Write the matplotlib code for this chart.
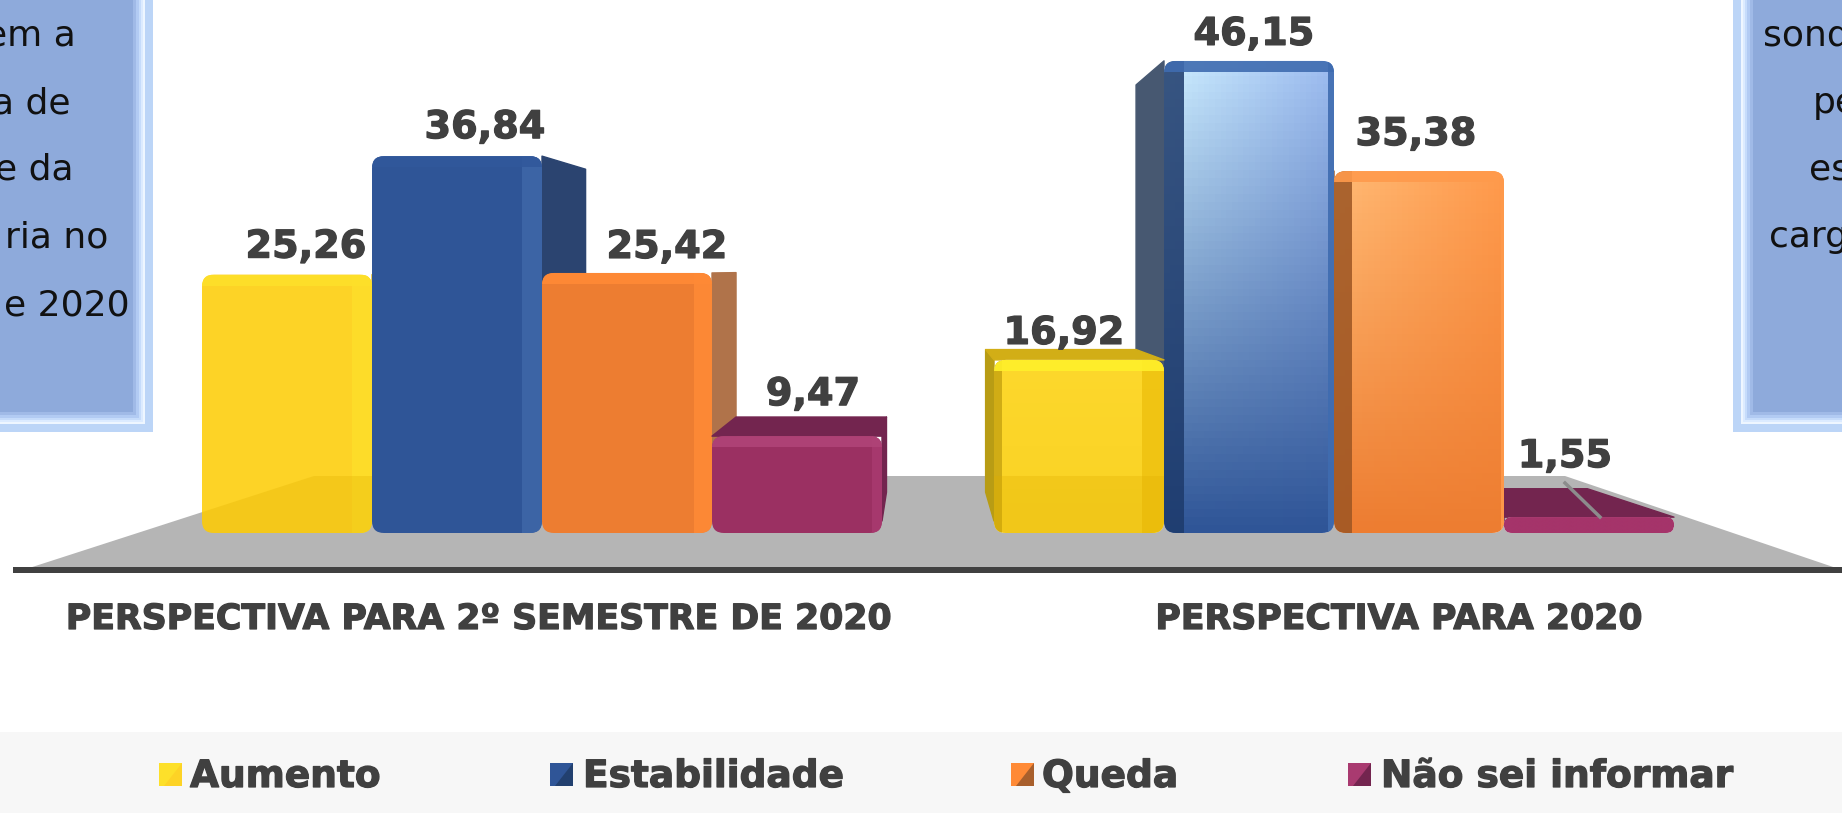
import numpy as np
import matplotlib
matplotlib.use("Agg")
import matplotlib.pyplot as plt
import matplotlib.patheffects as pe
from matplotlib.patches import FancyBboxPatch, Polygon, Rectangle
from matplotlib.colors import to_rgb

# Chart data
groups = ["PERSPECTIVA PARA 2º SEMESTRE DE 2020", "PERSPECTIVA PARA 2020"]
series = ["Aumento", "Estabilidade", "Queda", "Não sei informar"]
semester_values = [25.26, 36.84, 25.42, 9.47]
year_values = [16.92, 46.15, 35.38, 1.55]
semester_labels = ["25,26", "36,84", "25,42", "9,47"]
year_labels = ["16,92", "46,15", "35,38", "1,55"]
left_box_lines = ["em a", "a de", "e da", "ria no", "e 2020"]
right_box_lines = ["sond", "pe", "es", "carg"]

# Bar styles: front, side, top, cap, edge strip (colour, width in px), thin strip on the other edge
semester_styles = [
    dict(front="#fdd326", side="#e8bd10", top="#fde02a", cap="#fde02a", strip=("#fede2a", 20)),
    dict(front="#2f5597", side="#2b4470", top="#2f5597", cap="#31589b", strip=("#3f67a8", 20)),
    dict(front="#ed7d31", side="#b0734a", top="#ff8a36", cap="#ff8a36", strip=("#ff8a36", 18)),
    dict(front="#9b3062", side="#73254f", top="#73254f", cap="#b04478", strip=("#a93a70", 10)),
]
year_styles = [
    dict(side="#b89c14", top="#d2ae16", cap="#fff02a", strip=("#c9a512", 8), other=("#efc311", 22),
         grad=("#fdd82c", "#fdd82c", "#f9d224")),
    dict(side="#475871", top="#3f6cb0", cap="#3f6cb0", strip=("#1d3a6b", 20), other=("#3f6cb0", 6),
         grad=("#cdeeff", "#9dbcf0", "#2f5597")),
    dict(side="#9c5523", top="#ff9a4c", cap="#ff9a4c", strip=("#9c5523", 18), other=("#ff9a4c", 3),
         grad=("#ffba75", "#ff9a4c", "#ed7d31")),
    dict(side="#73254f", top="#73254f", cap="#a5346a", strip=None, other=None,
         grad=("#a5346a", "#a5346a", "#a5346a")),
]
swatch_colors = [("#fde02a", "#fdd326"), ("#2f5597", "#22406f"), ("#ff8a36", "#a85f2c"), ("#a93a70", "#73254f")]
text_color = "#404040"

W, H = 1842, 813
PX_X = 790.0    # pixels per group
PX_Y = 10.23    # pixels per percent
CENTER_X = 542
BASE_Y = 533
BAR_W = 170 / PX_X
DEPTH = 0.115
VP = ((921 - CENTER_X) / PX_X, (BASE_Y - 270) / PX_Y)

fig = plt.figure(figsize=(W / 100, H / 100), dpi=100, facecolor="white")

# Axes in pixels for the floor, text boxes and legend
bg = fig.add_axes([0, 0, 1, 1], zorder=1)
bg.set_xlim(0, W)
bg.set_ylim(H, 0)
bg.axis("off")

# Axes for the bars
ax = fig.add_axes([0, 0, 1, 1], zorder=2)
ax.patch.set_alpha(0)
ax.axis("off")


def side_box(inner_x, outer_x, bottom):
    # bevelled frame, outside in
    sign = 1 if outer_x > inner_x else -1
    far = -10 if sign > 0 else W + 10
    shades = ["#bcd5f7", "#eef6ff", "#dcebff", "#c6dcfb", "#b2cbf3", "#a0bae7", "#8eaadb"]
    insets = [0, 8, 10, 12, 14, 17, 20]
    for shade, inset in zip(shades, insets):
        edge = outer_x - sign * inset
        bg.add_patch(Rectangle((min(far, edge), -5), abs(edge - far), bottom - inset + 5, fc=shade, ec="none"))


side_box(134, 153, 432)
side_box(1753, 1733, 432)

left_ends = [76, 70, 73, 108, 130]
for line, x, y in zip(left_box_lines, left_ends, [46, 113, 180, 247, 315]):
    bg.text(x, y, line, fontsize=26, family="DejaVu Sans", ha="right", va="baseline", color="#111111")
for line, x, y in zip(right_box_lines, [1763, 1813, 1809, 1769], [46, 113, 180, 247]):
    bg.text(x, y, line, fontsize=26, family="DejaVu Sans", ha="left", va="baseline", color="#111111")

# Floor and axis line
floor_pts = [(23, 570), (314, 476), (1565, 476), (1842, 570)]
bg.add_patch(Polygon(floor_pts, fc="#b5b5b5", ec="none"))
bg.add_patch(Rectangle((13, 567), W, 6, fc=text_color, ec="none"))


def back(x, y):
    return x + DEPTH * (VP[0] - x), y + DEPTH * (VP[1] - y)


def clipped_rect(x, y, w, h, color, alpha, clip):
    r = Rectangle((x, y), w, h, fc=color, alpha=alpha, ec="none", zorder=3)
    ax.add_patch(r)
    r.set_clip_path(clip)


def draw_bar(x0, value, style, left_side):
    x1 = x0 + BAR_W
    radius = min(12, value * PX_Y * 0.5)
    # side face
    sx = x0 if left_side else x1
    bx, by = back(sx, value)
    low = min(radius / PX_Y, value)
    bx0, by0 = back(sx, low)
    ax.add_patch(Polygon([(sx, low), (sx, value), (bx, by), (bx0, by0)], fc=style["side"], ec=style["side"],
                         lw=1, joinstyle="round", zorder=3))
    # top face
    if value < VP[1] - 1:
        lx, ly = back(x0, value)
        rx, ry = back(x1, value)
        ax.add_patch(Polygon([(x0, value), (x1, value), (rx, ry), (lx, ly)], fc=style["top"], ec=style["top"],
                             lw=1, joinstyle="round", zorder=3))
    # front face, rounded
    front = FancyBboxPatch((x0, 0), BAR_W, value,
                           boxstyle="round,pad=0,rounding_size=%f" % (radius / PX_X),
                           mutation_aspect=PX_X / PX_Y, fc=style.get("front", "#ffffff"), ec="none", zorder=3)
    ax.add_patch(front)
    if "grad" in style:
        tl, tr, bt = [np.array(to_rgb(c)) for c in style["grad"]]
        u = np.linspace(0, 1, 30)[None, :, None]
        v = np.linspace(0, 1, 60)[:, None, None]
        img = (tl * (1 - u) + tr * u) * (1 - v) + bt * v
        im = ax.imshow(img, extent=(x0, x1, 0, value), origin="upper", aspect="auto", zorder=3)
        im.set_clip_path(front)
    # bevels
    if style["strip"] is not None:
        c, w = style["strip"]
        xs = x0 if left_side else x1 - w / PX_X
        clipped_rect(xs, 0, w / PX_X, value, c, 0.85, front)
    if style.get("other") is not None:
        c, w = style["other"]
        xs = x1 - w / PX_X if left_side else x0
        clipped_rect(xs, 0, w / PX_X, value, c, 0.9, front)
    bh = min(11, value * PX_Y * 0.6) / PX_Y
    clipped_rect(x0, value - bh, BAR_W, bh, style["cap"], 0.9, front)
    return front


starts = [-2 * BAR_W, 1 - 2 * BAR_W + 2 / PX_X]

# first group is drawn left to right, the second right to left so the sides overlap like the original
yellow_fronts = []
for i in range(4):
    f = draw_bar(starts[0] + i * BAR_W, semester_values[i], semester_styles[i], False)
    if i == 0:
        yellow_fronts.append(f)
for i in [3, 2, 1, 0]:
    f = draw_bar(starts[1] + i * BAR_W, year_values[i], year_styles[i], True)
    if i == 0:
        yellow_fronts.append(f)

# the floor shows faintly through the yellow bars
for f in yellow_fronts:
    shade = Polygon(floor_pts, transform=bg.transData, fc="#e0b000", alpha=0.3, ec="none", zorder=4)
    ax.add_patch(shade)
    shade.set_clip_path(f)

ax.set_xlim(-CENTER_X / PX_X, (W - CENTER_X) / PX_X)
ax.set_ylim((BASE_Y - H) / PX_Y, BASE_Y / PX_Y)

heavy = [pe.withStroke(linewidth=0.9, foreground=text_color)]

# Value labels, offsets in pixels from the bar front top centre
semester_offsets = [(19, 17), (28, 18), (40, 15), (16, 31)]
year_offsets = [(-15, 16), (5, 16), (-3, 26), (-24, 50)]
for g, values, labels, offsets in [(0, semester_values, semester_labels, semester_offsets),
                                   (1, year_values, year_labels, year_offsets)]:
    for i in range(4):
        xc = starts[g] + (i + 0.5) * BAR_W
        ax.annotate(labels[i], xy=(xc, values[i]), xytext=offsets[i], textcoords="offset pixels",
                    ha="center", va="baseline", fontsize=27.5, fontweight="bold",
                    family="DejaVu Sans", color=text_color, zorder=6, path_effects=heavy)

# Thin leader line of the smallest bar
ax.plot([1565, 1600], [483, 517], transform=bg.transData, color="#8c8c8c", lw=2.5, zorder=5)

# Group labels
for label, x in zip(groups, [479, 1399]):
    bg.text(x, 629, label, ha="center", va="baseline", fontsize=25, fontweight="bold",
            family="DejaVu Sans", color=text_color, path_effects=heavy)

# Legend strip
bg.add_patch(Rectangle((0, 732), W, 81, fc="#f7f7f7", ec="none"))
swatch_x = [159, 550, 1011, 1348]
text_x = [190, 583, 1042, 1381]
for name, sx, tx, (light, dark) in zip(series, swatch_x, text_x, swatch_colors):
    bg.add_patch(Rectangle((sx, 763), 23, 23, fc=light, ec="none"))
    bg.add_patch(Polygon([(sx + 23, 763), (sx + 23, 786), (sx + 5, 786)], fc=dark, ec="none"))
    bg.text(tx, 787, name, ha="left", va="baseline", fontsize=27, fontweight="bold",
            family="DejaVu Sans", color=text_color, path_effects=heavy)

fig.savefig("out.png", dpi=100)
